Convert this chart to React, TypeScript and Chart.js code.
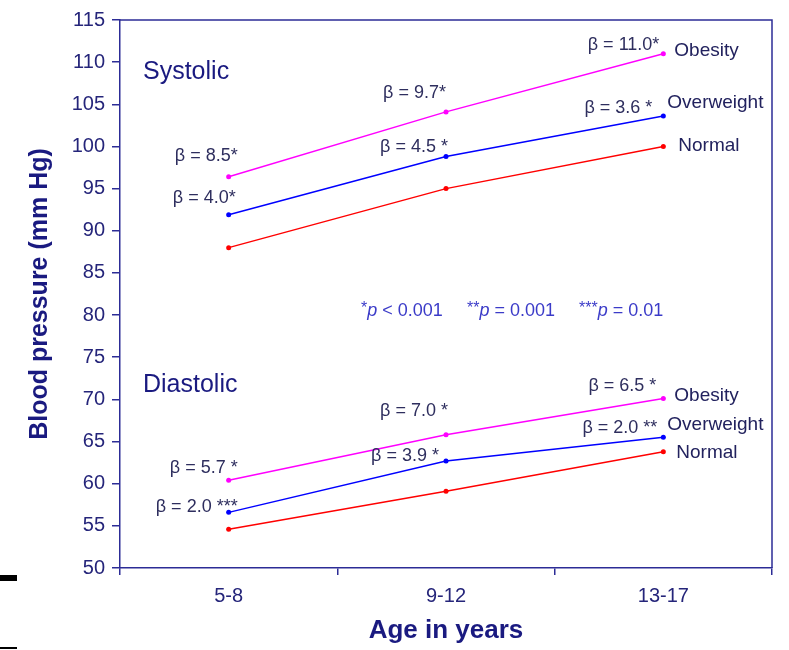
import React, { useEffect, useRef } from 'react';
import { Chart, registerables } from 'chart.js';

Chart.register(...registerables);

// ---------- data ----------
const ageGroups = ['5-8', '9-12', '13-17'];
const yMin = 50;
const yMax = 115;
const yStep = 5;

const groupNames = ['Obesity', 'Overweight', 'Normal'];
const panelNames = ['Systolic', 'Diastolic'];

const systolicObesity = [96.4, 104.1, 111.0];
const systolicOverweight = [91.9, 98.8, 103.6];
const systolicNormal = [88.0, 95.0, 100.0];

const diastolicObesity = [60.4, 65.8, 70.1];
const diastolicOverweight = [56.6, 62.7, 65.5];
const diastolicNormal = [54.6, 59.1, 63.8];

const systolicObesityBeta = ['β = 8.5*', 'β = 9.7*', 'β = 11.0*'];
const systolicOverweightBeta = ['β = 4.0*', 'β = 4.5 *', 'β = 3.6 *'];
const diastolicObesityBeta = ['β = 5.7 *', 'β = 7.0 *', 'β = 6.5 *'];
const diastolicOverweightBeta = ['β = 2.0 ***', 'β = 3.9 *', 'β = 2.0 **'];

const pValueNotes = [
  { stars: '*', rest: ' < 0.001' },
  { stars: '**', rest: ' = 0.001' },
  { stars: '***', rest: ' = 0.01' },
];

// ---------- styles / layout ----------
const FONT = '"Liberation Sans", Arial, sans-serif';
const AXIS_COLOR = '#2c2c96';
const TICK_COLOR = '#25257a';
const TITLE_COLOR = '#1a1a80';
const BETA_COLOR = '#2e2e5e';
const LABEL_COLOR = '#22225e';
const NOTE_COLOR = '#3b3bc8';
const seriesColors = ['#ff00ff', '#0000ff', '#ff0000'];

// offsets (px) of the right edge / vertical centre of each beta label from its point
const betaOffsets: Record<string, number[][]> = {
  sOb: [[9, -21], [0, -19], [-4, -9]],
  sOw: [[7, -17], [2, -10], [-11, -8]],
  dOb: [[9, -12], [2, -24], [-7, -13]],
  dOw: [[9, -5], [-7, -5], [-6, -9]],
};
// offsets of group name labels from the last point
const nameOffsets = [
  [[11, -3], [4, -13], [15, -1]],
  [[11, -3], [4, -13], [13, 1]],
];
const panelTitleValues = [108.8, 71.7];
const noteValue = 80.6;
const noteStarts = [241, 347, 459];

const annotationPlugin = {
  id: 'bpAnnotations',
  afterDatasetsDraw(chart: any) {
    const { ctx, chartArea, scales } = chart;
    const { left, top, right, bottom } = chartArea;
    const xs = scales.x;
    const ys = scales.y;
    ctx.save();

    // top and right frame
    ctx.strokeStyle = AXIS_COLOR;
    ctx.lineWidth = 1.5;
    ctx.beginPath();
    ctx.moveTo(left, top);
    ctx.lineTo(right, top);
    ctx.lineTo(right, bottom);
    ctx.stroke();

    // panel titles
    ctx.fillStyle = TITLE_COLOR;
    ctx.font = `25px ${FONT}`;
    ctx.textAlign = 'left';
    ctx.textBaseline = 'middle';
    panelNames.forEach((name, i) => {
      ctx.fillText(name, left + 23, ys.getPixelForValue(panelTitleValues[i]));
    });

    // beta labels
    const betaSets: [number, string[], number[][]][] = [
      [0, systolicObesityBeta, betaOffsets.sOb],
      [1, systolicOverweightBeta, betaOffsets.sOw],
      [3, diastolicObesityBeta, betaOffsets.dOb],
      [4, diastolicOverweightBeta, betaOffsets.dOw],
    ];
    ctx.fillStyle = BETA_COLOR;
    ctx.font = `18px ${FONT}`;
    ctx.textAlign = 'right';
    betaSets.forEach(([di, labels, offs]) => {
      const data = chart.data.datasets[di].data as number[];
      labels.forEach((t, i) => {
        const px = xs.getPixelForValue(i);
        const py = ys.getPixelForValue(data[i]);
        ctx.fillText(t, px + offs[i][0], py + offs[i][1]);
      });
    });

    // group names at end of lines
    ctx.fillStyle = LABEL_COLOR;
    ctx.font = `19px ${FONT}`;
    ctx.textAlign = 'left';
    [0, 1].forEach((panel) => {
      groupNames.forEach((name, g) => {
        const di = panel * 3 + g;
        const data = chart.data.datasets[di].data as number[];
        const last = data.length - 1;
        const px = xs.getPixelForValue(last);
        const py = ys.getPixelForValue(data[last]);
        const o = nameOffsets[panel][g];
        ctx.fillText(name, px + o[0], py + o[1]);
      });
    });

    // p-value note
    ctx.fillStyle = NOTE_COLOR;
    ctx.textBaseline = 'alphabetic';
    const base = ys.getPixelForValue(noteValue) + 6;
    pValueNotes.forEach((n, i) => {
      let cx = left + noteStarts[i];
      ctx.font = `16px ${FONT}`;
      ctx.fillText(n.stars, cx, base - 3);
      cx += ctx.measureText(n.stars).width;
      ctx.font = `italic 18px ${FONT}`;
      ctx.fillText('p', cx, base);
      cx += ctx.measureText('p').width;
      ctx.font = `18px ${FONT}`;
      ctx.fillText(n.rest, cx, base);
    });

    ctx.restore();
  },
};

function makeDataset(label: string, data: number[], color: string) {
  return {
    label,
    data,
    borderColor: color,
    backgroundColor: color,
    borderWidth: 1.5,
    pointRadius: 2.5,
    pointBorderWidth: 0,
    pointBackgroundColor: color,
    tension: 0,
    fill: false,
  };
}

export default function App() {
  const canvasRef = useRef<HTMLCanvasElement | null>(null);

  useEffect(() => {
    if (!canvasRef.current) return;
    const chart = new Chart(canvasRef.current, {
      type: 'line',
      data: {
        labels: ageGroups,
        datasets: [
          makeDataset(`${panelNames[0]} ${groupNames[0]}`, systolicObesity, seriesColors[0]),
          makeDataset(`${panelNames[0]} ${groupNames[1]}`, systolicOverweight, seriesColors[1]),
          makeDataset(`${panelNames[0]} ${groupNames[2]}`, systolicNormal, seriesColors[2]),
          makeDataset(`${panelNames[1]} ${groupNames[0]}`, diastolicObesity, seriesColors[0]),
          makeDataset(`${panelNames[1]} ${groupNames[1]}`, diastolicOverweight, seriesColors[1]),
          makeDataset(`${panelNames[1]} ${groupNames[2]}`, diastolicNormal, seriesColors[2]),
        ],
      },
      options: {
        responsive: false,
        animation: false,
        layout: { padding: { top: 20, right: 17, left: 0, bottom: 0 } },
        plugins: {
          legend: { display: false },
          tooltip: { enabled: false },
          title: { display: false },
        },
        scales: {
          x: {
            type: 'category',
            offset: true,
            afterFit: (scale: any) => {
              scale.height = 82;
            },
            grid: {
              offset: true,
              drawOnChartArea: false,
              drawTicks: true,
              tickLength: 7,
              color: AXIS_COLOR,
              lineWidth: 1.5,
            },
            border: { display: true, color: AXIS_COLOR, width: 1.5 },
            ticks: {
              autoSkip: false,
              maxRotation: 0,
              padding: 9,
              color: TICK_COLOR,
              font: { family: FONT, size: 20 },
            },
            title: {
              display: true,
              text: 'Age in years',
              color: TITLE_COLOR,
              font: { family: FONT, size: 26, weight: 'bold' },
              padding: { top: 0, bottom: 4 },
            },
          },
          y: {
            min: yMin,
            max: yMax,
            afterFit: (scale: any) => {
              scale.width = 120;
            },
            grid: {
              drawOnChartArea: false,
              drawTicks: true,
              tickLength: 8,
              color: AXIS_COLOR,
              lineWidth: 1.5,
            },
            border: { display: true, color: AXIS_COLOR, width: 1.5 },
            ticks: {
              stepSize: yStep,
              padding: 7,
              color: TICK_COLOR,
              font: { family: FONT, size: 20 },
            },
            title: {
              display: true,
              text: 'Blood pressure (mm Hg)',
              color: TITLE_COLOR,
              font: { family: FONT, size: 25, weight: 'bold' },
              padding: { top: 25, bottom: 0 },
            },
          },
        },
      },
      plugins: [annotationPlugin],
    } as any);
    return () => chart.destroy();
  }, []);

  return (
    <div style={{ position: 'absolute', left: 0, top: 0, width: 789, height: 650, background: '#fff' }}>
      <canvas ref={canvasRef} width={789} height={650} style={{ width: 789, height: 650, display: 'block' }} />
      <div style={{ position: 'absolute', left: 0, top: 575, width: 17, height: 6, background: '#000' }} />
      <div style={{ position: 'absolute', left: 0, top: 647, width: 17, height: 2, background: '#000' }} />
    </div>
  );
}
